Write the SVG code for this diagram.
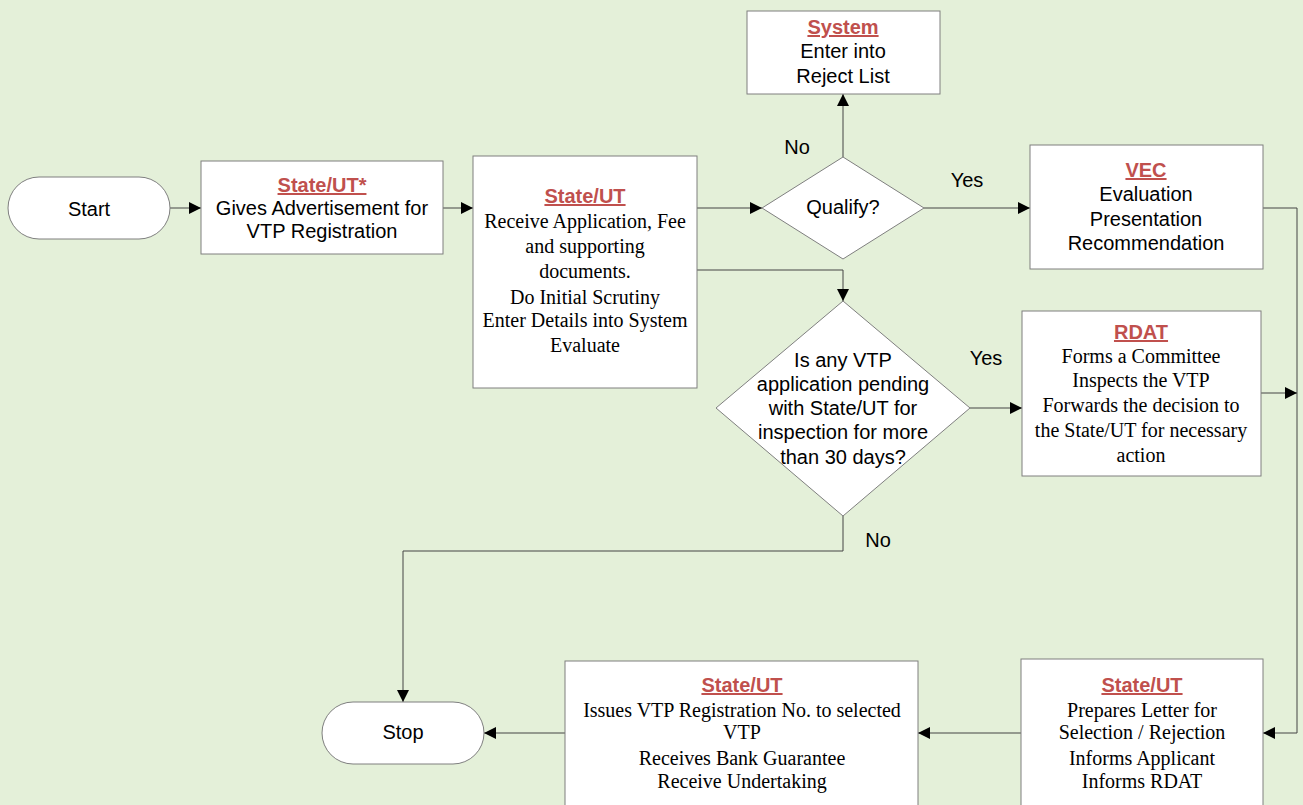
<svg xmlns="http://www.w3.org/2000/svg" width="1303" height="805" viewBox="0 0 1303 805">
<defs>
<marker id="ah" markerUnits="userSpaceOnUse" markerWidth="13" markerHeight="12" refX="12" refY="6" orient="auto">
<path d="M0,0 L12,6 L0,12 z" fill="#000"/>
</marker>
<style>
.shape{fill:#fff;stroke:#7f7f7f;stroke-width:1}
.con{fill:none;stroke:#454545;stroke-width:1;marker-end:url(#ah)}
.line{fill:none;stroke:#454545;stroke-width:1}
.a{font-family:"Liberation Sans",Arial,sans-serif;font-size:20px;fill:#000;text-anchor:middle}
.t{font-family:"Liberation Serif","Times New Roman",serif;font-size:20px;fill:#000;text-anchor:middle}
.h{font-family:"Liberation Sans",Arial,sans-serif;font-size:20px;font-weight:bold;fill:#c0504d;text-anchor:middle;text-decoration:underline}
</style>
</defs>
<rect x="0" y="0" width="1303" height="805" fill="#e4f0d9"/>

<g id="connectors">
<path class="con" d="M170,208 H201"/>
<path class="con" d="M443,208 H473"/>
<path class="con" d="M697,208 H762"/>
<path class="con" d="M843,157 V94"/>
<path class="con" d="M924,208 H1030"/>
<path class="con" d="M697,270 H843 V301"/>
<path class="con" d="M970,408 H1022"/>
<path class="line" d="M1263,208 H1297 V733"/>
<path class="con" d="M1261,393 H1297"/>
<path class="con" d="M1297,733 H1263"/>
<path class="con" d="M1021,733 H918"/>
<path class="con" d="M565,733 H484"/>
<path class="con" d="M843,516 V551 H403 V702"/>
<text class="a" x="797" y="154">No</text>
<text class="a" x="967" y="187">Yes</text>
<text class="a" x="986" y="365">Yes</text>
<text class="a" x="878" y="547">No</text>
</g>

<g id="start">
<rect class="shape" x="8" y="177" width="162" height="62" rx="31" ry="31"/>
<text class="a" x="89" y="216">Start</text>
</g>

<g id="advert">
<rect class="shape" x="201" y="161" width="242" height="93"/>
<text class="h" x="322" y="192">State/UT*</text>
<text class="a" x="322" y="215">Gives Advertisement for</text>
<text class="a" x="322" y="238">VTP Registration</text>
</g>

<g id="receive">
<rect class="shape" x="473" y="156" width="224" height="232"/>
<text class="h" x="585" y="203">State/UT</text>
<text class="t" x="585" y="228">Receive Application, Fee</text>
<text class="t" x="585" y="253">and supporting</text>
<text class="t" x="585" y="278">documents.</text>
<text class="t" x="585" y="304">Do Initial Scrutiny</text>
<text class="t" x="585" y="327">Enter Details into System</text>
<text class="t" x="585" y="352">Evaluate</text>
</g>

<g id="qualify">
<polygon class="shape" points="843,157 924,208 843,259 762,208"/>
<text class="a" x="843" y="214">Qualify?</text>
</g>

<g id="reject">
<rect class="shape" x="747" y="11" width="193" height="83"/>
<text class="h" x="843" y="34">System</text>
<text class="a" x="843" y="58">Enter into</text>
<text class="a" x="843" y="83">Reject List</text>
</g>

<g id="vec">
<rect class="shape" x="1030" y="145" width="233" height="124"/>
<text class="h" x="1146" y="177">VEC</text>
<text class="a" x="1146" y="201">Evaluation</text>
<text class="a" x="1146" y="226">Presentation</text>
<text class="a" x="1146" y="250">Recommendation</text>
</g>

<g id="pending">
<polygon class="shape" points="843,301 970,408 843,516 716,408"/>
<text class="a" x="843" y="367">Is any VTP</text>
<text class="a" x="843" y="391">application pending</text>
<text class="a" x="843" y="415">with State/UT for</text>
<text class="a" x="843" y="439">inspection for more</text>
<text class="a" x="843" y="464">than 30 days?</text>
</g>

<g id="rdat">
<rect class="shape" x="1022" y="311" width="239" height="165"/>
<text class="h" x="1141" y="339">RDAT</text>
<text class="t" x="1141" y="363">Forms a Committee</text>
<text class="t" x="1141" y="387">Inspects the VTP</text>
<text class="t" x="1141" y="412">Forwards the decision to</text>
<text class="t" x="1141" y="437">the State/UT for necessary</text>
<text class="t" x="1141" y="462">action</text>
</g>

<g id="letter">
<rect class="shape" x="1021" y="659" width="242" height="160"/>
<text class="h" x="1142" y="692">State/UT</text>
<text class="t" x="1142" y="717">Prepares Letter for</text>
<text class="t" x="1142" y="739">Selection / Rejection</text>
<text class="t" x="1142" y="765">Informs Applicant</text>
<text class="t" x="1142" y="788">Informs RDAT</text>
</g>

<g id="issue">
<rect class="shape" x="565" y="661" width="353" height="160"/>
<text class="h" x="742" y="692">State/UT</text>
<text class="t" x="742" y="717">Issues VTP Registration No. to selected</text>
<text class="t" x="742" y="739">VTP</text>
<text class="t" x="742" y="765">Receives Bank Guarantee</text>
<text class="t" x="742" y="788">Receive Undertaking</text>
</g>

<g id="stop">
<rect class="shape" x="322" y="702" width="162" height="62" rx="31" ry="31"/>
<text class="a" x="403" y="739">Stop</text>
</g>
</svg>
